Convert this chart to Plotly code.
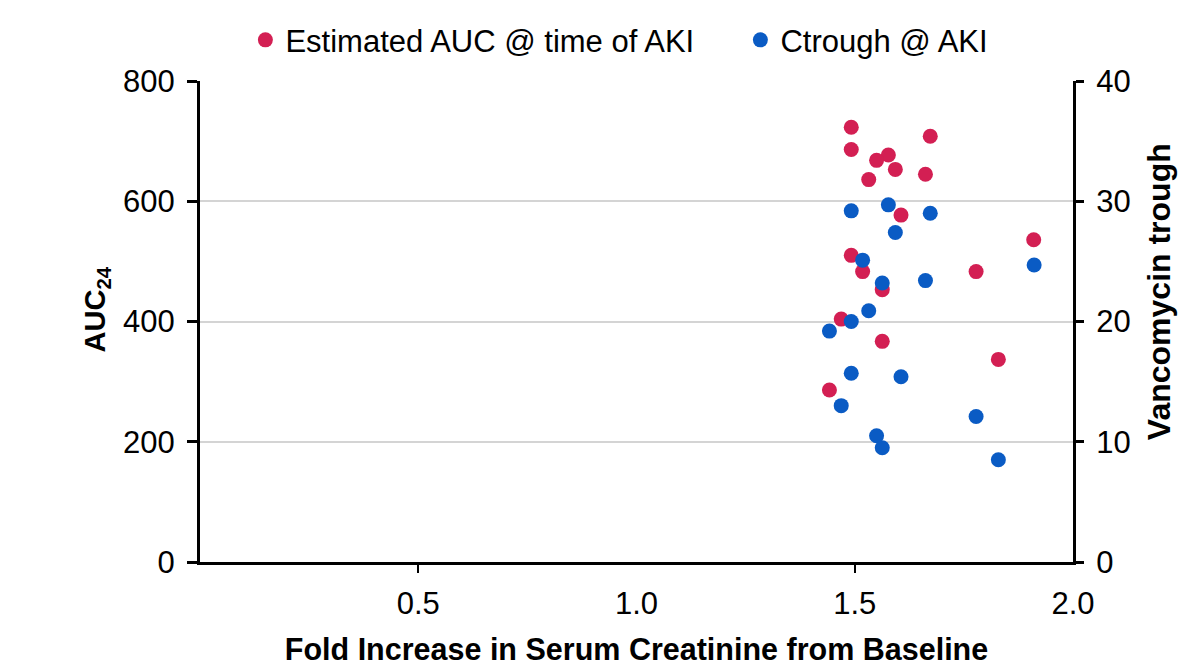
import plotly.graph_objects as go

# Estimated AUC @ time of AKI (left axis)
auc_fold = [1.492, 1.492, 1.673, 1.577, 1.550, 1.593, 1.532, 1.662, 1.606,
            1.910, 1.492, 1.518, 1.778, 1.563, 1.469, 1.563, 1.829, 1.442]
auc_vals = [723, 686, 708, 677, 668, 653, 636, 645, 577,
            536, 510, 483, 483, 453, 404, 367, 337, 286]

# Ctrough @ AKI (right axis)
trough_fold = [1.492, 1.577, 1.673, 1.593, 1.911, 1.518, 1.563, 1.662, 1.532,
               1.492, 1.442, 1.492, 1.606, 1.469, 1.778, 1.550, 1.563, 1.829]
trough_vals = [29.2, 29.7, 29.0, 27.4, 24.7, 25.1, 23.2, 23.4, 20.9,
               20.0, 19.2, 15.7, 15.4, 13.0, 12.1, 10.5, 9.5, 8.5]

x_ticks = [0.5, 1.0, 1.5, 2.0]
x_ticktext = ["0.5", "1.0", "1.5", "2.0"]
y_ticks = [0, 200, 400, 600, 800]
y2_ticks = [0, 10, 20, 30, 40]

RED = "#D31F53"
BLUE = "#0A5BC4"
FONT = "Liberation Sans, Arial, sans-serif"

fig = go.Figure()
fig.add_trace(go.Scatter(x=auc_fold, y=auc_vals, mode="markers",
                         name="Estimated AUC @ time of AKI", legend="legend",
                         marker=dict(color=RED, size=15), yaxis="y"))
fig.add_trace(go.Scatter(x=trough_fold, y=trough_vals, mode="markers",
                         name="Ctrough @ AKI", legend="legend2",
                         marker=dict(color=BLUE, size=15), yaxis="y2"))

legend_common = dict(orientation="h", y=0.94, yref="container", yanchor="middle",
                     xanchor="left", font=dict(size=31), itemsizing="trace",
                     bgcolor="rgba(0,0,0,0)")

fig.update_layout(
    width=1184, height=670,
    margin=dict(l=200, r=111, t=81, b=108),
    paper_bgcolor="white", plot_bgcolor="white",
    font=dict(family=FONT, size=31, color="black"),
    showlegend=True,
    legend=dict(x=0.052, **legend_common),
    legend2=dict(x=0.619, **legend_common),
    xaxis=dict(range=[0, 2], tickvals=x_ticks, ticktext=x_ticktext,
               showline=True, linewidth=3, linecolor="black",
               ticks="", showgrid=False, zeroline=False, automargin=False,
               ticklabelstandoff=12,
               minor=dict(tickvals=[0.5, 1.5], ticks="outside", ticklen=8,
                          tickwidth=2, tickcolor="black"),
               title=dict(text="<b>Fold Increase in Serum Creatinine from Baseline</b>",
                          font=dict(size=30.5), standoff=19)),
    yaxis=dict(range=[0, 800], tickvals=y_ticks, showline=True, linewidth=3,
               linecolor="black", ticks="outside", ticklen=10, tickwidth=3,
               tickcolor="black", showgrid=False, zeroline=False, automargin=False,
               ticklabelstandoff=6,
               minor=dict(tickvals=[200, 400, 600], showgrid=True,
                          gridcolor="#D4D4D4", gridwidth=1.5)),
    yaxis2=dict(range=[0, 40], tickvals=y2_ticks, overlaying="y", side="right",
                showline=True, linewidth=3, linecolor="black", ticks="outside",
                ticklen=8, tickwidth=3, tickcolor="black", showgrid=False,
                zeroline=False, automargin=False, ticklabelstandoff=6),
    annotations=[
        dict(text="<b>AUC<sub>24</sub></b>", xref="paper", yref="paper",
             x=-0.118, y=0.525, xanchor="center", yanchor="middle",
             textangle=-90, showarrow=False, font=dict(size=29)),
        dict(text="<b>Vancomycin trough</b>", xref="paper", yref="paper",
             x=1.0985, y=0.563, xanchor="center", yanchor="middle",
             textangle=-90, showarrow=False, font=dict(size=32)),
    ],
)

fig.write_html("out.html")
